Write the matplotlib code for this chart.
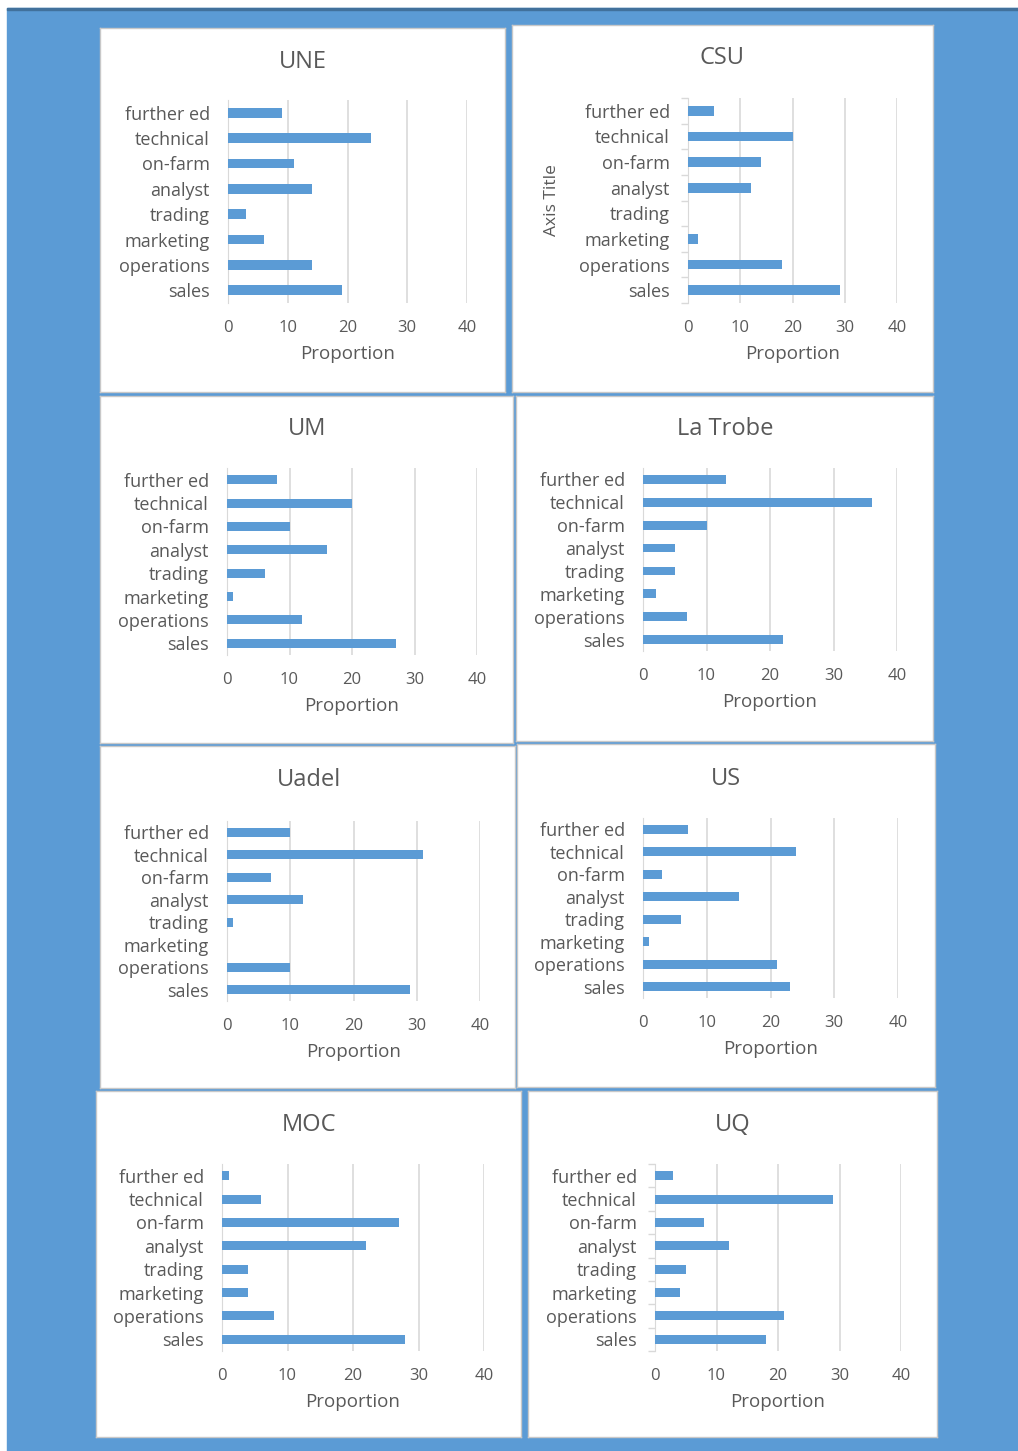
import numpy as np
import matplotlib.pyplot as plt
from matplotlib.patches import Rectangle

plt.rcParams['font.family'] = ['Open Sans', 'DejaVu Sans']

# categories bottom -> top, the way Excel stacks them in a bar chart
categories = ['sales', 'operations', 'marketing', 'trading',
              'analyst', 'on-farm', 'technical', 'further ed']

une = [19, 14, 6, 3, 14, 11, 24, 9]
csu = [29, 18, 2, 0, 12, 14, 20, 5]
um = [27, 12, 1, 6, 16, 10, 20, 8]
latrobe = [22, 7, 2, 5, 5, 10, 36, 13]
uadel = [29, 10, 0, 1, 12, 7, 31, 10]
us = [23, 21, 1, 6, 15, 3, 24, 7]
moc = [28, 8, 4, 4, 22, 27, 6, 1]
uq = [18, 21, 4, 5, 12, 8, 29, 3]

x_ticks = [0, 10, 20, 30, 40]

BLUE = '#5B9BD5'
TEXT = '#595959'
GRID = '#D9D9D9'

W, H = 1018, 1451


def fbox(l, t, r, b):
    # pixel box -> figure fraction [left, bottom, width, height]
    return [l / W, 1 - b / H, (r - l) / W, (b - t) / H]


def plot_Panel(fig, values, title, panel, plot_area, title_xy,
               ticks=False, ytitle=False):
    bg = fig.add_axes(fbox(*panel), zorder=1)
    bg.set_facecolor('white')
    bg.set_xticks([])
    bg.set_yticks([])
    for s in bg.spines.values():
        s.set_color('#C8C8C8')
        s.set_linewidth(1)

    fig.text(title_xy[0] / W, 1 - title_xy[1] / H, title, fontsize=17,
             color=TEXT, ha='center', va='center', zorder=5)

    ax = fig.add_axes(fbox(*plot_area), zorder=2)
    ax.patch.set_alpha(0)
    y = np.arange(len(categories))
    ax.barh(y, values, height=0.38, color=BLUE, zorder=3)
    ax.set_xlim(0, 40)
    ax.set_ylim(-0.5, 7.5)
    ax.set_xticks(x_ticks)
    ax.set_yticks(y)
    ax.set_yticklabels(categories)
    ax.grid(axis='x', color=GRID, linewidth=1.2, zorder=0)
    for name, s in ax.spines.items():
        s.set_visible(name == 'left')
    ax.spines['left'].set_color(GRID)
    ax.tick_params(axis='x', length=0, pad=12, labelsize=12, labelcolor=TEXT)
    ax.tick_params(axis='y', length=0, pad=13, labelsize=13, labelcolor=TEXT)
    if ticks:
        ax.set_yticks(np.arange(-0.5, 8, 1), minor=True)
        ax.tick_params(axis='y', which='minor', length=5, color=GRID, width=1)
    ax.set_xlabel('Proportion', fontsize=13.5, color=TEXT, labelpad=7)
    if ytitle:
        ax.set_ylabel('Axis Title', fontsize=12.5, color=TEXT, labelpad=14)
    return ax


fig = plt.figure(figsize=(W / 100, H / 100), dpi=100, facecolor='white')
fig.patches.append(Rectangle((7 / W, 0), (W - 7) / W, (H - 8) / H,
                             transform=fig.transFigure, color=BLUE, zorder=0))
fig.patches.append(Rectangle((7 / W, 1 - 10 / H), (W - 7) / W, 2 / H,
                             transform=fig.transFigure, color='#41719C', zorder=0))

plot_Panel(fig, une, 'UNE', (100, 28, 505, 392), (228, 100, 467, 303), (303, 62))
plot_Panel(fig, csu, 'CSU', (512, 25, 933, 392), (688, 98, 897, 303), (722, 58),
           ticks=True, ytitle=True)
plot_Panel(fig, um, 'UM', (100, 396, 513, 743), (227, 468, 477, 655), (307, 429))
plot_Panel(fig, latrobe, 'La Trobe', (516, 396, 933, 741), (643, 468, 897, 651), (725, 429))
plot_Panel(fig, uadel, 'Uadel', (100, 746, 515, 1088), (227, 821, 480, 1001), (309, 780))
plot_Panel(fig, us, 'US', (517, 744, 935, 1087), (643, 818, 898, 998), (726, 779))
plot_Panel(fig, moc, 'MOC', (96, 1091, 521, 1437), (222, 1164, 484, 1351), (309, 1125))
plot_Panel(fig, uq, 'UQ', (528, 1091, 937, 1437), (655, 1164, 901, 1351), (733, 1125),
           ticks=True)

fig.savefig('out.png', dpi=100, facecolor='white')
